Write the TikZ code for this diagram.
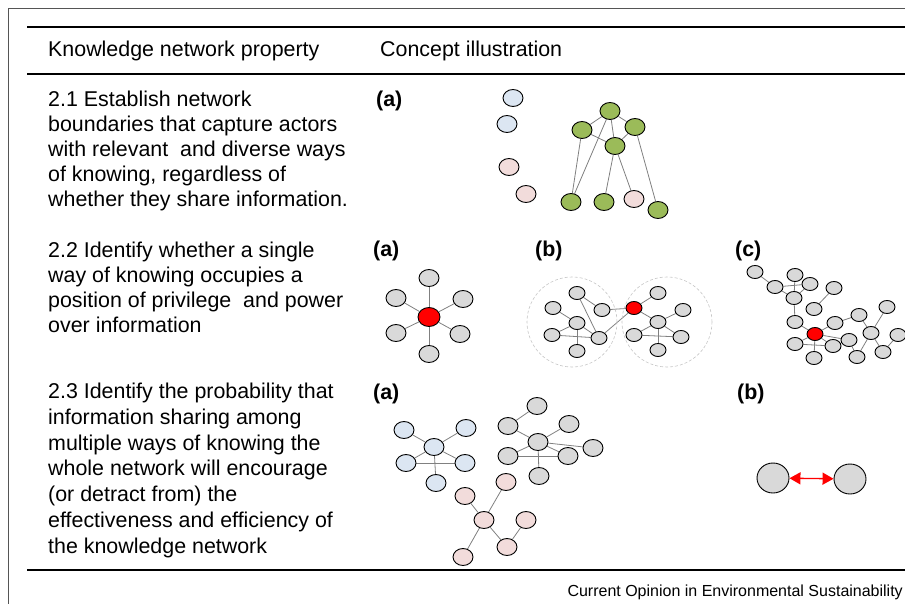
\documentclass[tikz,border=0pt]{standalone}
\usepackage{fontspec}
\setmainfont{Liberation Sans}
\usepackage{xcolor}
\usetikzlibrary{shapes.geometric,arrows.meta,backgrounds}

\definecolor{bluefill}{HTML}{DCE6F2}
\definecolor{pinkfill}{HTML}{F2DCDB}
\definecolor{greenfill}{HTML}{9BBB59}
\definecolor{grayfill}{HTML}{D9D9D9}
\definecolor{hubred}{HTML}{FF0000}
\definecolor{linkgray}{HTML}{808080}
\definecolor{framegray}{HTML}{555555}

\begin{document}
\begin{tikzpicture}[x=1pt,y=1pt,yscale=-1,
    nd/.style={ellipse,draw=black,line width=0.9pt,inner sep=0pt,minimum width=20pt,minimum height=17pt},
    sm/.style={nd,minimum width=16pt,minimum height=13pt},
    bl/.style={nd,fill=bluefill},
    pk/.style={nd,fill=pinkfill},
    gr/.style={nd,fill=greenfill},
    gy/.style={nd,fill=grayfill},
    sgy/.style={sm,fill=grayfill},
    hub/.style={fill=hubred},
    lnk/.style={draw=linkgray,line width=0.8pt},
    ring/.style={draw=gray!45,densely dashed,line width=0.6pt},
    rule/.style={line width=1.6pt},
    txt/.style={font=\fontsize{21.4}{25}\selectfont,anchor=base west,align=left,inner sep=0pt},
    lbl/.style={font=\fontsize{21.4}{25}\selectfont\bfseries,anchor=base west,inner sep=0pt}]
        \useasboundingbox (0,0) rectangle (905,604);
        \draw[framegray,line width=0.8pt] (8,604) -- (8,8) -- (905,8);
        \draw[rule] (27,27) -- (905,27);
        \draw[rule] (27,74) -- (905,74);
        \draw[rule] (27,570) -- (905,570);

        \node[txt] (hprop) at (48,57) {Knowledge network property};
        \node[txt] (hill) at (380,57) {Concept illustration};

        \node[txt] (prop1) at (48,207) {2.1 Establish network\\boundaries that capture actors\\with relevant~ and diverse ways\\of knowing, regardless of\\whether they share information.};
        \node[txt] (prop2) at (48,332) {2.2 Identify whether a single\\way of knowing occupies a\\position of privilege~ and power\\over information};
        \node[txt,font=\fontsize{21.4}{25.7}\selectfont] (prop3) at (48,553) {2.3 Identify the probability that\\information sharing among\\multiple ways of knowing the\\whole network will encourage\\(or detract from) the\\effectiveness and efficiency of\\the knowledge network};

        \node[lbl] (la1) at (376,107) {(a)};
        \node[lbl] (la2) at (373,257) {(a)};
        \node[lbl] (lb2) at (535,257) {(b)};
        \node[lbl] (lc2) at (735,257) {(c)};
        \node[lbl] (la3) at (373,399) {(a)};
        \node[lbl] (lb3) at (737,399) {(b)};

        \node[font=\fontsize{16}{19}\selectfont,anchor=base east,inner sep=0pt] (src) at (903,596) {Current Opinion in Environmental Sustainability};

        % 2.1 (a)
        \node[bl] (ka) at (513,98) {};
        \node[bl] (kb) at (507,124) {};
        \node[pk] (kc) at (509,167) {};
        \node[pk] (kd) at (526,194) {};
        \node[gr] (gtop) at (610,111) {};
        \node[gr] (gleft) at (582,130) {};
        \node[gr] (gright) at (635,127) {};
        \node[gr] (gmid) at (615,146) {};
        \node[gr] (gb1) at (571,202) {};
        \node[gr] (gb2) at (604,202) {};
        \node[pk] (gb3) at (634,199) {};
        \node[gr] (gb4) at (658,210) {};
        \begin{scope}[on background layer]
            \foreach \a/\b in {gtop/gleft,gtop/gright,gtop/gmid,gtop/gb1,gleft/gmid,gleft/gb1,gright/gmid,gright/gb4,gmid/gb2,gmid/gb3}
                \draw[lnk] (\a) -- (\b);
        \end{scope}

        % 2.2 (a)
        \node[gy,hub,minimum width=22pt,minimum height=19pt] (sc) at (429,317) {};
        \node[gy] (s1) at (429,278) {};
        \node[gy] (s2) at (396,298) {};
        \node[gy] (s3) at (463,299) {};
        \node[gy] (s4) at (396,333) {};
        \node[gy] (s5) at (460,334) {};
        \node[gy] (s6) at (429,354) {};
        \begin{scope}[on background layer]
            \foreach \b in {s1,s2,s3,s4,s5,s6}
                \draw[lnk] (sc) -- (\b);
        \end{scope}

        % 2.2 (b)
        \node[ring,circle,minimum size=90pt,inner sep=0pt] (ringl) at (572,322) {};
        \node[ring,circle,minimum size=90pt,inner sep=0pt] (ringr) at (667,322) {};
        \node[sgy] (ma) at (577,293) {};
        \node[sgy] (mb) at (553,308) {};
        \node[sgy] (mc) at (602,310) {};
        \node[sgy] (md) at (577,323) {};
        \node[sgy] (me) at (552,335) {};
        \node[sgy] (mf) at (599,338) {};
        \node[sgy] (mg) at (577,351) {};
        \node[sgy,hub] (mr) at (634,308) {};
        \node[sgy] (mh) at (658,293) {};
        \node[sgy] (mi) at (683,310) {};
        \node[sgy] (mj) at (658,322) {};
        \node[sgy] (mk) at (634,335) {};
        \node[sgy] (ml) at (681,337) {};
        \node[sgy] (mm) at (658,350) {};
        \begin{scope}[on background layer]
            \foreach \a/\b in {ma/mc,ma/mf,md/mb,md/me,md/mf,md/mg,me/mf,mc/mr,mf/mr,mr/mh,mr/mj,mj/mi,mj/mk,mj/ml,mj/mm,mk/ml}
                \draw[lnk] (\a) -- (\b);
        \end{scope}

        % 2.2 (c)
        \node[sgy] (c1) at (755,272) {};
        \node[sgy] (c2) at (775,287) {};
        \node[sgy] (c3) at (795,275) {};
        \node[sgy] (c4) at (810,284) {};
        \node[sgy] (c5) at (794,298) {};
        \node[sgy] (c6) at (834,288) {};
        \node[sgy] (c7) at (814,309) {};
        \node[sgy] (c8) at (795,322) {};
        \node[sgy] (c9) at (835,323) {};
        \node[sgy] (c10) at (859,315) {};
        \node[sgy] (c11) at (887,307) {};
        \node[sgy,hub] (cr) at (815,334) {};
        \node[sgy] (c12) at (795,344) {};
        \node[sgy] (c13) at (833,346) {};
        \node[sgy] (c14) at (849,340) {};
        \node[sgy] (c15) at (871,333) {};
        \node[sgy] (c16) at (898,335) {};
        \node[sgy] (c17) at (814,358) {};
        \node[sgy] (c18) at (857,357) {};
        \node[sgy] (c19) at (883,352) {};
        \begin{scope}[on background layer]
            \foreach \a/\b in {c1/c2,c2/c4,c2/c5,c3/c5,c4/c5,c5/c8,c6/c7,c8/cr,c9/cr,c9/c10,c10/c15,c11/c15,c15/c19,c19/c16,c15/c18,c18/c14,cr/c14,cr/c12,cr/c13,cr/c17,c12/c13}
                \draw[lnk] (\a) -- (\b);
        \end{scope}

        % 2.3 (a)
        \node[bl] (u1) at (404,430) {};
        \node[bl] (u2) at (466,428) {};
        \node[bl] (u3) at (434,447) {};
        \node[bl] (u4) at (406,463) {};
        \node[bl] (u5) at (465,463) {};
        \node[bl] (u6) at (436,483) {};
        \node[gy] (v1) at (537,406) {};
        \node[gy] (v2) at (508,426) {};
        \node[gy] (v3) at (569,424) {};
        \node[gy] (v4) at (538,442) {};
        \node[gy] (v5) at (593,448) {};
        \node[gy] (v6) at (508,456) {};
        \node[gy] (v7) at (568,456) {};
        \node[gy] (v8) at (539,476) {};
        \node[pk] (w1) at (506,482) {};
        \node[pk] (w2) at (465,496) {};
        \node[pk] (w3) at (484,520) {};
        \node[pk] (w4) at (526,520) {};
        \node[pk] (w5) at (507,547) {};
        \node[pk] (w6) at (463,557) {};
        \begin{scope}[on background layer]
            \foreach \a/\b in {u3/u1,u3/u2,u3/u4,u3/u5,u3/u6,u4/u5,v1/v2,v4/v2,v4/v3,v4/v5,v4/v6,v4/v7,v4/v8,v6/v7,w3/w1,w3/w2,w3/w5,w3/w6,w4/w5}
                \draw[lnk] (\a) -- (\b);
        \end{scope}

        % 2.3 (b)
        \node[gy,minimum width=32pt,minimum height=30pt] (pl) at (773,478) {};
        \node[gy,minimum width=32pt,minimum height=30pt] (pr) at (850,479) {};
        \draw[hubred,line width=1.3pt,{Triangle[length=11pt,width=12pt]}-{Triangle[length=11pt,width=12pt]}] (pl) -- (pr);
\end{tikzpicture}
\end{document}
